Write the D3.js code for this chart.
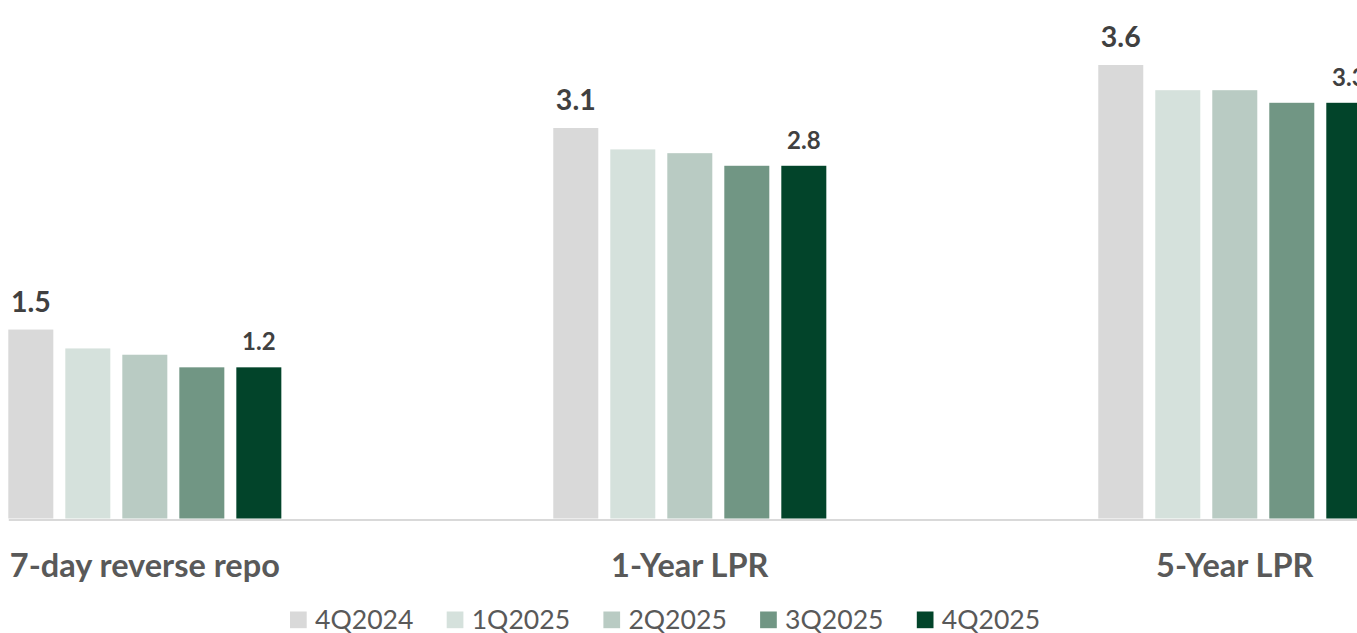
<!DOCTYPE html>
<html>
<head>
<meta charset="utf-8">
<script src="https://cdn.jsdelivr.net/npm/d3@7"></script>
<style>
  html, body { margin: 0; padding: 0; background: #fff; overflow: hidden; }
  svg { display: block; font-family: Lato, "Open Sans", sans-serif; }
</style>
</head>
<body>
<svg id="chart" width="1357" height="633"></svg>
<script>
// Policy rates by quarter (%)
const categories = ["7-day reverse repo", "1-Year LPR", "5-Year LPR"];
const seriesNames = ["4Q2024", "1Q2025", "2Q2025", "3Q2025", "4Q2025"];
const rate4Q2024 = [1.5, 3.1, 3.6];
const rate1Q2025 = [1.35, 2.93, 3.4];
const rate2Q2025 = [1.3, 2.9, 3.4];
const rate3Q2025 = [1.2, 2.8, 3.3];
const rate4Q2025 = [1.2, 2.8, 3.3];
const seriesColors = ["#d9d9d9", "#d5e1dc", "#b9cbc3", "#719684", "#02442a"];

const seriesValues = [rate4Q2024, rate1Q2025, rate2Q2025, rate3Q2025, rate4Q2025];
const rows = categories.map((c, i) => ({
  category: c,
  values: seriesNames.map((s, j) => ({ series: s, index: j, value: seriesValues[j][i] }))
}));

const svg = d3.select("#chart");

const x0 = d3.scaleBand()
  .domain(categories)
  .range([8.3, 1371.3])
  .paddingInner(0.499)
  .paddingOuter(0);

const x1 = d3.scaleBand()
  .domain(seriesNames)
  .range([0, x0.bandwidth()])
  .paddingInner(0.2105)
  .paddingOuter(0);

const y = d3.scaleLinear()
  .domain([0, 3.6])
  .range([518.5, 65]);

// Bars
const groups = svg.append("g")
  .selectAll("g")
  .data(rows)
  .join("g")
  .attr("transform", d => `translate(${x0(d.category)},0)`);

groups.selectAll("rect")
  .data(d => d.values)
  .join("rect")
  .attr("x", d => x1(d.series))
  .attr("y", d => y(d.value))
  .attr("width", x1.bandwidth())
  .attr("height", d => y(0) - y(d.value))
  .attr("fill", d => seriesColors[d.index]);

// Value labels on the first and last quarter of each group
groups.selectAll("text.value")
  .data(d => d.values.filter(v => v.index === 0 || v.index === seriesNames.length - 1))
  .join("text")
  .attr("class", "value")
  .attr("x", d => x1(d.series) + x1.bandwidth() / 2)
  .attr("y", d => y(d.value) - (d.index === 0 ? 18 : 17))
  .attr("text-anchor", "middle")
  .attr("font-weight", 700)
  .attr("font-size", d => d.index === 0 ? 28.5 : 24)
  .attr("fill", "#404040")
  .text(d => d3.format(".1f")(d.value));

// Category axis
const xAxis = svg.append("g")
  .attr("transform", `translate(0,${y(0) + 1})`)
  .call(d3.axisBottom(x0).tickSize(0).tickPadding(0));

xAxis.select(".domain")
  .attr("stroke", "#d9d9d9")
  .attr("stroke-width", 2);

xAxis.selectAll(".tick text")
  .attr("dy", null)
  .attr("y", 57)
  .attr("font-family", "Lato, 'Open Sans', sans-serif")
  .attr("font-size", 32.5)
  .attr("font-weight", 700)
  .attr("fill", "#595959");

// Legend
const legend = svg.append("g")
  .selectAll("g")
  .data(seriesNames)
  .join("g")
  .attr("transform", (d, i) => `translate(${290 + i * 156.7},611.5)`);

legend.append("rect")
  .attr("width", 16.7)
  .attr("height", 16.7)
  .attr("fill", (d, i) => seriesColors[i]);

legend.append("text")
  .attr("x", 25)
  .attr("y", 17)
  .attr("font-size", 26.6)
  .attr("fill", "#595959")
  .text(d => d);
</script>
</body>
</html>
